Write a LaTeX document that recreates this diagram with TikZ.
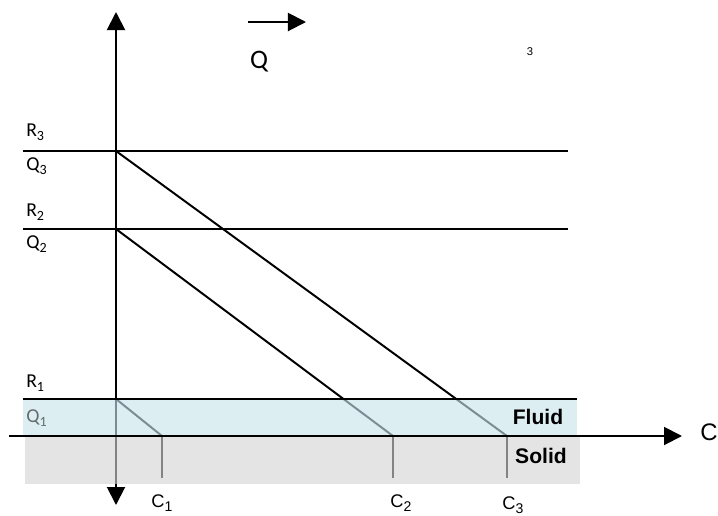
\documentclass[tikz,border=0pt]{standalone}
\usepackage{fontspec}
\setmainfont{Carlito}
\newfontfamily\arialfont{Liberation Sans}
\usetikzlibrary{arrows.meta,positioning}
\definecolor{fluidblue}{RGB}{200,228,236}
\definecolor{solidgray}{RGB}{212,212,212}
\newcommand{\lowsub}[1]{\raisebox{-0.45ex}{\fontsize{10}{12}\selectfont #1}}

\begin{document}
\begin{tikzpicture}[
    x=0.025cm, y=-0.025cm,
    axis/.style={line width=1.4pt, {Triangle[length=4.5mm,width=4.5mm]}-{Triangle[length=4.5mm,width=4.5mm]}},
    arrow/.style={line width=1.4pt, -{Triangle[length=4.5mm,width=4.5mm]}},
    level/.style={line width=1.4pt},
    slope/.style={line width=1.4pt},
    tick/.style={line width=1.4pt},
    lab/.style={font=\fontsize{14}{16}\selectfont, anchor=west, inner sep=0pt},
    clab/.style={font=\arialfont\fontsize{13}{15}\selectfont, inner sep=0pt},
    phase/.style={font=\arialfont\bfseries\fontsize{15}{17}\selectfont, inner sep=0pt},
    band/.style={fill opacity=0.62, draw=none}
]
    \useasboundingbox (0,0) rectangle (718,515);

    % Axes
    \coordinate (ytop) at (116,12);
    \coordinate (ybot) at (116,505);
    \coordinate (xl) at (9,436);
    \coordinate (xr) at (682,436);
    \draw[axis] (ybot) -- (ytop);

    % Levels
    \coordinate (r3l) at (23,151);  \coordinate (r3r) at (568,151);
    \coordinate (r2l) at (23,229);  \coordinate (r2r) at (568,229);
    \coordinate (r1l) at (23,399);  \coordinate (r1r) at (577,399);
    \coordinate (q3) at (116,151);
    \coordinate (q2) at (116,229);
    \coordinate (q1) at (116,399);
    \draw[level] (r3l) -- (r3r);
    \draw[level] (r2l) -- (r2r);

    % Concentrations
    \coordinate (c1) at (162,436);
    \coordinate (c2) at (393,436);
    \coordinate (c3) at (507,436);
    \coordinate (c1b) at (162,478);
    \coordinate (c2b) at (393,478);
    \coordinate (c3b) at (507,478);
    \draw[slope] (q3) -- (c3);
    \draw[slope] (q2) -- (c2);
    \draw[slope] (q1) -- (c1);
    \draw[tick] (c1) -- (c1b);
    \draw[tick] (c2) -- (c2b);
    \draw[tick] (c3) -- (c3b);

    % Phases
    \fill[band, fill=fluidblue] (23,399) rectangle (577,436);
    \fill[band, fill=solidgray] (25,436) rectangle (580,484);
    \draw[level] (r1l) -- (r1r);
    \draw[arrow] (xl) -- (xr);

    \node[phase] (fluid) at (538,417) {Fluid};
    \node[phase] (solid) at (541,456) {Solid};

    % Labels
    \node[lab] (R3) at (26,132) {R\lowsub{3}};
    \node[lab] (Q3) at (26,166) {Q\lowsub{3}};
    \node[lab] (R2) at (26,212) {R\lowsub{2}};
    \node[lab] (Q2) at (26,244) {Q\lowsub{2}};
    \node[lab] (R1) at (26,383) {R\lowsub{1}};
    \node[lab, opacity=0.55] (Q1) at (26,418) {Q\lowsub{1}};
    \node[clab] (C1) at (162,503) {C\lowsub{1}};
    \node[clab] (C2) at (401,503) {C\lowsub{2}};
    \node[clab] (C3) at (513,505) {C\lowsub{3}};
    \node[clab, anchor=west, font=\arialfont\fontsize{17}{19}\selectfont] (C) at (700,432) {C};

    % Flow
    \coordinate (fl) at (248,22);
    \coordinate (fr) at (306,22);
    \draw[arrow] (fl) -- (fr);
    \node[font=\fontsize{19}{21}\selectfont, inner sep=0pt] (Q) at (259,62) {Q};
    \node[font=\arialfont\fontsize{8}{10}\selectfont, inner sep=0pt] (three) at (530,52) {3};
\end{tikzpicture}
\end{document}
